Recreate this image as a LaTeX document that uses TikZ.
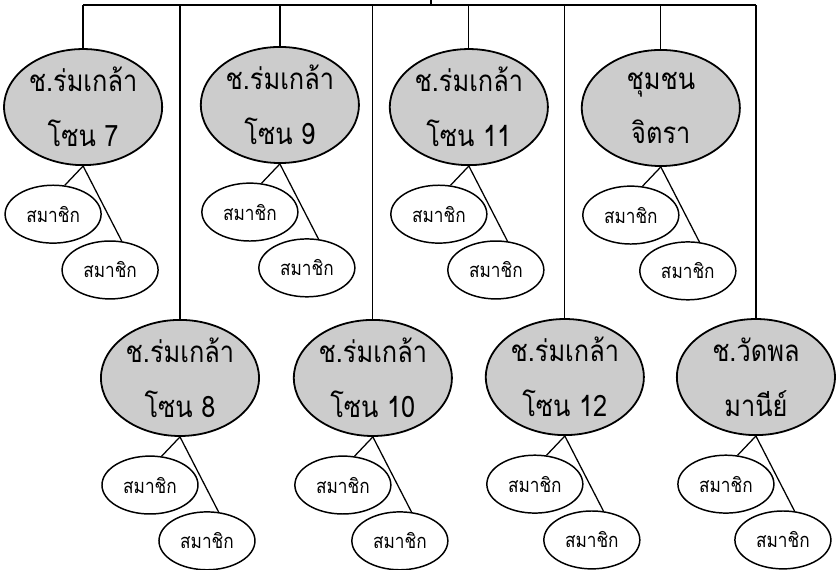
\documentclass[tikz,border=0pt]{standalone}
\usepackage{fontspec}
\newfontfamily\thaifont[Script=Thai,FakeStretch=0.86]{Loma}
\usetikzlibrary{shapes.geometric}

\begin{document}
\begin{tikzpicture}[
    zone/.style={ellipse, draw, line width=1.7pt, fill=gray!40, minimum width=5.27cm, minimum height=3.87cm,
        inner sep=0pt, align=center, font=\thaifont\fontsize{28}{52}\selectfont},
    member/.style={ellipse, draw, line width=1.4pt, fill=white, minimum width=3.2cm, minimum height=1.93cm,
        inner sep=0pt, font=\thaifont\fontsize{19}{20}\selectfont},
    link/.style={line width=1.2pt}
]
    \useasboundingbox (0,0) rectangle (27.97,-19);
    % upper row of zones
    \node[zone] (z7) at (2.77,-3.57) {ช.ร่มเกล้า\\โซน 7};
    \node[zone] (z9) at (9.33,-3.5) {ช.ร่มเกล้า\\โซน 9};
    \node[zone] (z11) at (15.63,-3.57) {ช.ร่มเกล้า\\โซน 11};
    \node[zone] (jit) at (22.03,-3.6) {ชุมชน\\จิตรา};
    % lower row of zones
    \node[zone] (z8) at (6.0,-12.6) {ช.ร่มเกล้า\\โซน 8};
    \node[zone] (z10) at (12.43,-12.6) {ช.ร่มเกล้า\\โซน 10};
    \node[zone] (z12) at (18.83,-12.57) {ช.ร่มเกล้า\\โซน 12};
    \node[zone] (wat) at (25.2,-12.57) {ช.วัดพล\\มานีย์};
    % trunk
    \coordinate (top) at (14.37,0);
    \coordinate (bus) at (14.37,-0.17);
    \draw[link] (top) -- (bus);
    \draw[link] (z7.north |- bus) -- (wat.north |- bus);
    \foreach \z in {z7,z8,z9,z10,z11,z12,jit,wat} {
        \draw[link] (\z.north |- bus) -- (\z.north);
        \node[member] (\z a) at ([shift={(-1.0,-3.57)}]\z) {สมาชิก};
        \node[member] (\z b) at ([shift={(0.9,-5.43)}]\z) {สมาชิก};
        \draw[link] (\z.south) -- (\z a.68);
        \draw[link] (\z.south) -- (\z b.68);
    }
\end{tikzpicture}
\end{document}
